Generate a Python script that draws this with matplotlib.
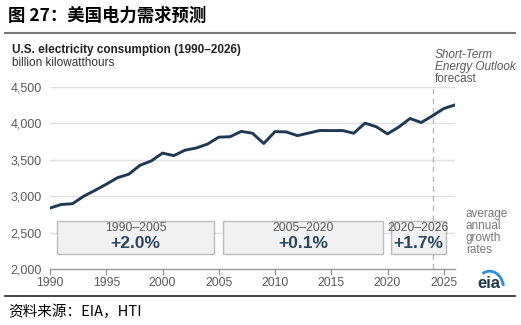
import matplotlib
matplotlib.use("Agg")
import matplotlib.pyplot as plt
from matplotlib.patches import Rectangle, Arc

plt.rcParams['font.family'] = ['Liberation Sans', 'DejaVu Sans']

# data (billion kWh), 2024-2026 are STEO forecast
years = list(range(1990, 2027))
consumption = [2837, 2886, 2897, 3000, 3080, 3164, 3254, 3302, 3425, 3484,
               3592, 3557, 3632, 3662, 3716, 3811, 3817, 3890, 3865, 3724,
               3887, 3883, 3832, 3868, 3903, 3901, 3902, 3865, 4003, 3954,
               3856, 3950, 4067, 4012, 4104, 4204, 4254]
yticks = [2000, 2500, 3000, 3500, 4000, 4500]
xticks = [1990, 1995, 2000, 2005, 2010, 2015, 2020, 2025]
periods = ["1990\u20132005", "2005\u20132020", "2020\u20132026"]
rates = ["+2.0%", "+0.1%", "+1.7%"]
box_x = [(1990.6, 2004.6), (2005.4, 2019.6), (2020.3, 2025.2)]
forecast_start = 2024

navy = "#1f3954"
grey = "#5a5a5a"

fig = plt.figure(figsize=(5.21, 3.25), dpi=100)
W, H = 521, 325
ax = fig.add_axes([50 / W, 1 - 269 / H, 405 / W, 182 / H])

ax.plot(years, consumption, color=navy, lw=2.1, zorder=4, solid_joinstyle="round")
ax.set_xlim(1990, 2026)
ax.set_ylim(2000, 4500)
ax.set_yticks(yticks)
ax.set_yticklabels([f"{v:,}" for v in yticks])
ax.set_xticks(xticks)
for s in ["top", "right", "left"]:
    ax.spines[s].set_visible(False)
ax.spines["bottom"].set_color("#999999")
ax.spines["bottom"].set_linewidth(1.0)
ax.tick_params(axis="x", colors="#999999", length=4, width=1, direction="out",
               labelcolor=grey, labelsize=8.8, pad=2)
ax.tick_params(axis="y", length=0, labelcolor=grey, labelsize=9, pad=6)
for v in yticks[1:]:
    ax.axhline(v, color="#e0e0e0", lw=1, zorder=1)
ax.axvline(forecast_start, ymin=0, ymax=1, color="#b8b8b8", lw=1, ls=(0, (4, 3)), zorder=2)

# growth rate boxes
for (x0, x1), p, r in zip(box_x, periods, rates):
    ax.add_patch(Rectangle((x0, 2205), x1 - x0, 450, facecolor="#f0f1f0",
                           edgecolor="#bdbdbd", lw=1, zorder=3))
    xm = (x0 + x1) / 2
    ax.text(xm, 2560, p, ha="center", va="center", fontsize=8.8, color=grey, zorder=5)
    ax.text(xm, 2350, r, ha="center", va="center", fontsize=12.5, color="#2d4660",
            fontweight="bold", zorder=5)

# header
fig.text(8 / W, 1 - 16 / H, "图 27：美国电力需求预测", fontsize=12.5, fontweight="bold",
         family=["Noto Sans CJK SC", "DejaVu Sans"], va="center", ha="left")
fig.add_artist(plt.Line2D([5 / W, 515 / W], [1 - 33 / H] * 2, color="#7a7a7a", lw=1.5))
fig.text(12 / W, 1 - 50 / H, "U.S. electricity consumption (1990\u20132026)", fontsize=8.5,
         fontweight="bold", va="center", ha="left", color="#222222")
fig.text(12 / W, 1 - 63 / H, "billion kilowatthours", fontsize=8.5, va="center",
         ha="left", color="#333333")

fig.text(435 / W, 1 - 55 / H, "Short-Term", fontsize=8.5, style="italic", color=grey, va="center")
fig.text(435 / W, 1 - 67 / H, "Energy Outlook", fontsize=8.5, style="italic", color=grey, va="center")
fig.text(435 / W, 1 - 79 / H, "forecast", fontsize=8.5, color=grey, va="center")

for i, w in enumerate(["average", "annual", "growth", "rates"]):
    fig.text(466 / W, 1 - (214 + 12 * i) / H, w, fontsize=8.5, color="#777777", va="center")

# eia logo
fig.text(489 / W, 1 - 283 / H, "eia", fontsize=12, fontweight="bold", color="#1f3954",
         ha="center", va="center")
logo = fig.add_axes([477 / W, 1 - 291 / H, 28 / W, 22 / H])
logo.axis("off")
logo.set_xlim(0, 1)
logo.set_ylim(0, 1)
logo.add_patch(Arc((0.45, 0.1), 1.0, 1.6, theta1=15, theta2=110, color="#2a8fd6", lw=2))

fig.add_artist(plt.Line2D([5 / W, 515 / W], [1 - 296 / H] * 2, color="#222222", lw=1.2))
fig.text(8 / W, 1 - 312 / H, "资料来源：EIA，HTI", fontsize=10.5, style="italic",
         family=["Noto Sans CJK SC", "DejaVu Sans"], va="center", ha="left")

fig.savefig("out.png", dpi=100)
